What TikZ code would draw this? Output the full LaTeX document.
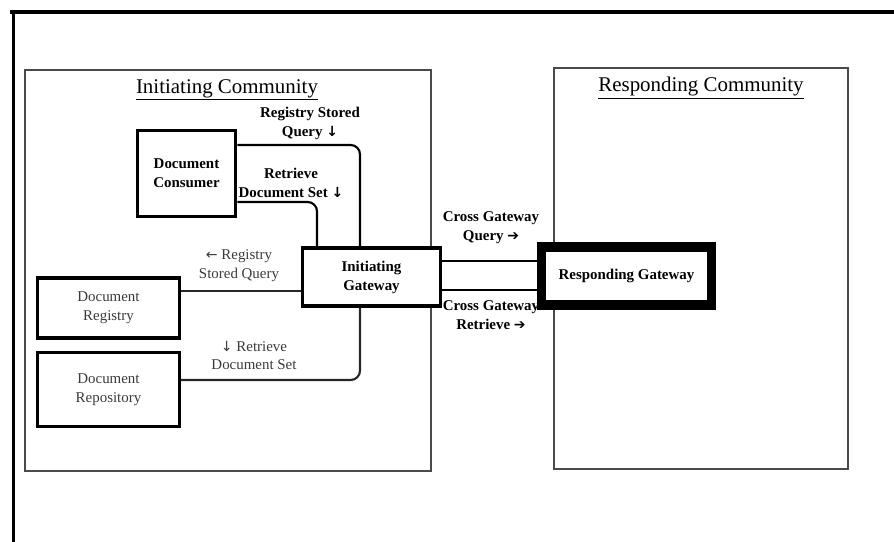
\documentclass[tikz,border=0pt]{standalone}
\usepackage{fontspec}
\setmainfont{Liberation Serif}
\newfontfamily\arrowfont{DejaVu Sans}
\usetikzlibrary{positioning,calc}
\definecolor{Ink}{HTML}{000000}
\definecolor{Soft}{HTML}{3A3A3A}
\definecolor{Frame}{HTML}{4A4A4A}
\newcommand{\dnarr}{{\arrowfont\fontsize{10.5}{14.2}\selectfont ↓}}
\newcommand{\lfarr}{{\arrowfont\fontsize{10.5}{14.2}\selectfont ←}}
\newcommand{\rtarr}{{\arrowfont\fontsize{10.5}{14.2}\selectfont ➔}}

\begin{document}
\begin{tikzpicture}[x=0.75pt,y=-0.75pt,
  actor/.style={draw=Ink,line width=2.3pt,fill=white,inner sep=1pt,align=center,font=\fontsize{11.2}{14.2}\selectfont},
  bigactor/.style={actor,font=\fontsize{11.2}{14.2}\selectfont\bfseries},
  plainactor/.style={actor,text=Soft},
  gateway/.style={bigactor,line width=6.8pt},
  tag/.style={align=center,inner sep=0pt,font=\fontsize{11.2}{14.2}\selectfont\bfseries},
  plaintag/.style={align=center,inner sep=0pt,text=Soft,font=\fontsize{11.2}{14.2}\selectfont},
  title/.style={inner sep=0pt,font=\fontsize{15.7}{18}\selectfont},
  link/.style={draw=Ink,line width=1.6pt,rounded corners=7pt},
  plainlink/.style={link,draw=Ink!85}]
\useasboundingbox (0,0) rectangle (894,542);
\draw[Ink,line width=3pt] (10,12) -- (894,12);
\draw[Ink,line width=2.8pt] (13.5,10.5) -- (13.5,542);
\draw[Frame,line width=0.9pt] (25,70) rectangle (431,471);
\draw[Frame,line width=0.9pt] (554,68) rectangle (848,469);
\node[title] (ititle) at (227,90) {\underline{Initiating Community}};
\node[title] (rtitle) at (701,88) {\underline{Responding Community}};
\node[bigactor,minimum width=74pt,minimum height=65pt] (consumer) at (186.5,173.5) {Document\\Consumer};
\node[bigactor,minimum width=104pt,minimum height=43.5pt] (igw) at (371.5,277) {Initiating\\Gateway};
\node[plainactor,minimum width=106pt,minimum height=45pt] (registry) at (108.5,308) {Document\\Registry};
\node[plainactor,minimum width=106pt,minimum height=56pt] (repository) at (108.5,389.5) {Document\\Repository};
\node[gateway,minimum width=128pt,minimum height=43.5pt] (rgw) at (626.5,276) {Responding Gateway};
\draw[link] (consumer.east |- 0,145) -| (igw.north -| 360,0);
\draw[link] (consumer.east |- 0,202) -| (igw.north -| 317,0);
\draw[plainlink] (igw.west |- 0,291) -- (registry.east |- 0,291);
\draw[plainlink] (igw.south -| 360,0) |- (repository.east |- 0,380);
\draw[link] (igw.east |- 0,261) -- (rgw.west |- 0,261);
\draw[link] (igw.east |- 0,290) -- (rgw.west |- 0,290);
\node[tag] (rsqtag) at (310,123.5) {Registry Stored\\Query \dnarr};
\node[tag] (rdstag) at (291,183) {Retrieve\\Document Set \dnarr};
\node[plaintag] (regtag) at (239,265.5) {\lfarr\ Registry\\Stored Query};
\node[plaintag] (reptag) at (254,355.5) {\dnarr\ Retrieve\\Document Set};
\node[tag] (xqtag) at (491,227.5) {Cross Gateway\\Query \rtarr};
\node[tag] (xrtag) at (491,315.5) {Cross Gateway\\Retrieve \rtarr};
\end{tikzpicture}
\end{document}
